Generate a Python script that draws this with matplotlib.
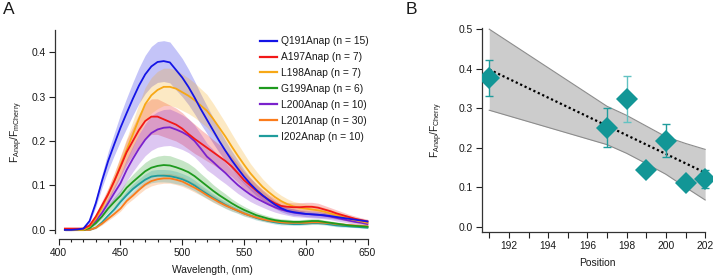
import numpy as np
import matplotlib
matplotlib.use("Agg")
import matplotlib.pyplot as plt
from matplotlib.ticker import MultipleLocator

plt.rcParams['font.family'] = ['Liberation Sans', 'DejaVu Sans']
plt.rcParams['mathtext.fontset'] = 'custom'
plt.rcParams['mathtext.rm'] = 'Liberation Sans'
plt.rcParams['mathtext.it'] = 'Liberation Sans:italic'

# ---------------- Panel A data ----------------
wavelength = list(range(405, 651, 5))

labels = ["Q191Anap (n = 15)", "A197Anap (n = 7)", "L198Anap (n = 7)", "G199Anap (n = 6)",
          "L200Anap (n = 10)", "L201Anap (n = 30)", "I202Anap (n = 10)"]

q191 = [0.0, 0.0, 0.001, 0.003, 0.02, 0.06, 0.11, 0.155, 0.193, 0.23,
        0.263, 0.295, 0.325, 0.35, 0.368, 0.378, 0.38, 0.377, 0.36, 0.343,
        0.322, 0.298, 0.272, 0.248, 0.224, 0.2, 0.178, 0.157, 0.138, 0.12,
        0.104, 0.09, 0.078, 0.067, 0.057, 0.049, 0.043, 0.04, 0.038, 0.036,
        0.035, 0.034, 0.033, 0.031, 0.029, 0.027, 0.025, 0.023, 0.021, 0.019]
q191_err = [0.002, 0.002, 0.002, 0.002, 0.004, 0.009, 0.015, 0.021, 0.025, 0.03,
            0.034, 0.037, 0.04, 0.043, 0.045, 0.046, 0.046, 0.046, 0.045, 0.043,
            0.04, 0.037, 0.034, 0.031, 0.029, 0.026, 0.023, 0.021, 0.019, 0.016,
            0.014, 0.013, 0.011, 0.01, 0.009, 0.008, 0.007, 0.007, 0.006, 0.006,
            0.006, 0.006, 0.006, 0.005, 0.005, 0.005, 0.005, 0.004, 0.004, 0.004]

a197 = [0.003, 0.003, 0.003, 0.003, 0.01, 0.03, 0.055, 0.08, 0.11, 0.142,
        0.175, 0.2, 0.225, 0.245, 0.255, 0.255, 0.249, 0.243, 0.237, 0.228,
        0.216, 0.205, 0.195, 0.185, 0.175, 0.165, 0.155, 0.143, 0.128, 0.112,
        0.1, 0.088, 0.077, 0.068, 0.06, 0.054, 0.052, 0.051, 0.051, 0.052,
        0.052, 0.05, 0.046, 0.042, 0.037, 0.033, 0.029, 0.025, 0.022, 0.019]
a197_err = [0.002, 0.002, 0.002, 0.002, 0.003, 0.006, 0.01, 0.014, 0.018, 0.023,
            0.028, 0.032, 0.036, 0.039, 0.04, 0.04, 0.039, 0.038, 0.037, 0.036,
            0.034, 0.033, 0.031, 0.03, 0.028, 0.027, 0.025, 0.023, 0.021, 0.019,
            0.017, 0.015, 0.014, 0.012, 0.011, 0.01, 0.01, 0.01, 0.01, 0.01,
            0.01, 0.01, 0.009, 0.008, 0.008, 0.007, 0.006, 0.006, 0.005, 0.005]

l198 = [0.0, 0.0, 0.0, 0.0, 0.008, 0.025, 0.05, 0.08, 0.11, 0.145,
        0.18, 0.215, 0.25, 0.283, 0.303, 0.315, 0.322, 0.322, 0.318, 0.31,
        0.302, 0.292, 0.28, 0.268, 0.25, 0.23, 0.21, 0.188, 0.167, 0.147,
        0.128, 0.112, 0.097, 0.085, 0.074, 0.065, 0.058, 0.053, 0.05, 0.048,
        0.046, 0.044, 0.041, 0.037, 0.033, 0.029, 0.025, 0.022, 0.019, 0.016]
l198_err = [0.002, 0.002, 0.002, 0.002, 0.004, 0.006, 0.009, 0.013, 0.017, 0.022,
            0.026, 0.03, 0.034, 0.038, 0.04, 0.042, 0.042, 0.042, 0.042, 0.041,
            0.04, 0.039, 0.038, 0.037, 0.035, 0.033, 0.031, 0.029, 0.027, 0.025,
            0.022, 0.02, 0.018, 0.016, 0.014, 0.013, 0.012, 0.011, 0.011, 0.01,
            0.01, 0.01, 0.009, 0.009, 0.008, 0.007, 0.007, 0.006, 0.006, 0.005]

g199 = [0.0, 0.0, 0.0, 0.0, 0.004, 0.015, 0.03, 0.048, 0.063, 0.077,
        0.095, 0.108, 0.12, 0.132, 0.14, 0.144, 0.146, 0.145, 0.141, 0.136,
        0.13, 0.121, 0.11, 0.099, 0.088, 0.078, 0.069, 0.06, 0.052, 0.045,
        0.039, 0.033, 0.029, 0.025, 0.022, 0.02, 0.019, 0.018, 0.018, 0.019,
        0.02, 0.02, 0.018, 0.016, 0.014, 0.012, 0.01, 0.009, 0.008, 0.007]
g199_err = [0.001, 0.001, 0.001, 0.001, 0.002, 0.004, 0.006, 0.009, 0.011, 0.013,
            0.015, 0.017, 0.019, 0.02, 0.021, 0.022, 0.022, 0.022, 0.021, 0.021,
            0.02, 0.019, 0.017, 0.016, 0.014, 0.013, 0.012, 0.01, 0.009, 0.008,
            0.007, 0.007, 0.006, 0.006, 0.005, 0.005, 0.005, 0.005, 0.005, 0.005,
            0.005, 0.005, 0.004, 0.004, 0.004, 0.004, 0.003, 0.003, 0.003, 0.003]

l200 = [0.0, 0.0, 0.0, 0.002, 0.008, 0.02, 0.038, 0.06, 0.083, 0.105,
        0.135, 0.16, 0.183, 0.203, 0.218, 0.226, 0.23, 0.231, 0.226, 0.22,
        0.212, 0.2, 0.183, 0.165, 0.153, 0.14, 0.128, 0.114, 0.101, 0.09,
        0.08, 0.071, 0.064, 0.057, 0.051, 0.046, 0.042, 0.039, 0.037, 0.036,
        0.035, 0.034, 0.032, 0.03, 0.027, 0.024, 0.021, 0.018, 0.016, 0.013]
l200_err = [0.001, 0.001, 0.001, 0.002, 0.003, 0.005, 0.008, 0.012, 0.016, 0.02,
            0.025, 0.029, 0.033, 0.036, 0.039, 0.04, 0.041, 0.041, 0.04, 0.039,
            0.038, 0.036, 0.033, 0.03, 0.028, 0.026, 0.024, 0.021, 0.019, 0.017,
            0.016, 0.014, 0.013, 0.012, 0.011, 0.01, 0.009, 0.009, 0.008, 0.008,
            0.008, 0.008, 0.007, 0.007, 0.007, 0.006, 0.006, 0.005, 0.005, 0.004]

l201 = [0.0, 0.0, 0.0, 0.0, 0.0, 0.005, 0.014, 0.025, 0.036, 0.048,
        0.065, 0.077, 0.09, 0.102, 0.11, 0.114, 0.116, 0.116, 0.113, 0.109,
        0.102, 0.095, 0.087, 0.078, 0.07, 0.062, 0.055, 0.049, 0.043, 0.037,
        0.032, 0.028, 0.024, 0.021, 0.019, 0.017, 0.016, 0.016, 0.016, 0.016,
        0.017, 0.017, 0.016, 0.015, 0.013, 0.012, 0.011, 0.01, 0.009, 0.008]
l201_err = [0.001, 0.001, 0.001, 0.001, 0.001, 0.002, 0.003, 0.004, 0.005, 0.006,
            0.007, 0.008, 0.009, 0.01, 0.011, 0.011, 0.011, 0.011, 0.011, 0.011,
            0.01, 0.01, 0.009, 0.008, 0.008, 0.007, 0.006, 0.006, 0.005, 0.005,
            0.004, 0.004, 0.004, 0.004, 0.003, 0.003, 0.003, 0.003, 0.003, 0.003,
            0.003, 0.003, 0.003, 0.003, 0.003, 0.003, 0.002, 0.002, 0.002, 0.002]

i202 = [0.0, 0.0, 0.0, 0.0, 0.0, 0.005, 0.017, 0.032, 0.046, 0.063,
        0.078, 0.092, 0.103, 0.113, 0.12, 0.122, 0.122, 0.121, 0.118, 0.114,
        0.108, 0.1, 0.09, 0.081, 0.072, 0.064, 0.056, 0.049, 0.043, 0.037,
        0.032, 0.027, 0.023, 0.02, 0.017, 0.015, 0.014, 0.013, 0.013, 0.014,
        0.015, 0.015, 0.014, 0.012, 0.01, 0.009, 0.008, 0.007, 0.006, 0.005]
i202_err = [0.001, 0.001, 0.001, 0.001, 0.001, 0.002, 0.004, 0.005, 0.007, 0.008,
            0.01, 0.011, 0.012, 0.013, 0.014, 0.014, 0.014, 0.014, 0.014, 0.013,
            0.013, 0.012, 0.011, 0.01, 0.009, 0.008, 0.008, 0.007, 0.006, 0.006,
            0.005, 0.005, 0.004, 0.004, 0.004, 0.004, 0.003, 0.003, 0.003, 0.003,
            0.003, 0.003, 0.003, 0.003, 0.003, 0.003, 0.002, 0.002, 0.002, 0.002]

series = [q191, a197, l198, g199, l200, l201, i202]
series_err = [q191_err, a197_err, l198_err, g199_err, l200_err, l201_err, i202_err]
colors = ["#1414e6", "#f21818", "#f7a816", "#1e9a1e", "#7a22cc", "#fb7c1c", "#1f9c9c"]

# ---------------- Panel B data ----------------
position = [191, 197, 198, 199, 200, 201, 202]
ratio = [0.377, 0.251, 0.323, 0.144, 0.218, 0.110, 0.121]
ratio_err = [0.045, 0.050, 0.058, 0.010, 0.041, 0.010, 0.023]
band_hi = [0.500, 0.305, 0.282, 0.255, 0.228, 0.211, 0.196]
band_lo = [0.295, 0.208, 0.186, 0.160, 0.133, 0.100, 0.068]
fit_x = [191, 202]
fit_y = [0.398, 0.137]

W, H = 715, 277
fig = plt.figure(figsize=(W / 100, H / 100), dpi=100)

FS = 7.4
tick_color = "#222222"
text_color = "#1a1a1a"

# ---------- Panel A ----------
axA = fig.add_axes([55 / W, (H - 233) / H, 315 / W, 203 / H])
wl = np.array(wavelength)
for y, e, c in zip(series, series_err, colors):
    y = np.array(y); e = np.array(e)
    axA.fill_between(wl, y - e, y + e, color=c, alpha=0.25, lw=0)
for y, c, lab in reversed(list(zip(series, colors, labels))):
    axA.plot(wl, y, color=c, lw=1.3, label=lab)

axA.set_xlim(397, 652)
axA.set_ylim(-0.007, 0.45)
for s in ["top", "right"]:
    axA.spines[s].set_visible(False)
axA.spines["bottom"].set_position(("outward", 4))
axA.spines["bottom"].set_bounds(400, 650)
axA.xaxis.set_major_locator(MultipleLocator(50))
axA.xaxis.set_minor_locator(MultipleLocator(10))
axA.yaxis.set_major_locator(MultipleLocator(0.1))
axA.yaxis.set_major_formatter(matplotlib.ticker.FormatStrFormatter('%.1f'))
axA.tick_params(axis='both', which='major', labelsize=FS, length=4, width=0.8,
                color=tick_color, labelcolor=text_color, pad=2.5)
axA.tick_params(axis='x', which='minor', length=2.5, width=0.8, color=tick_color)
for s in ["left", "bottom"]:
    axA.spines[s].set_linewidth(0.9)
    axA.spines[s].set_color("#333333")
axA.set_xlabel("Wavelength, (nm)", fontsize=FS, labelpad=5, color=text_color)
axA.set_ylabel(r"F$_{\mathrm{Anap}}$/F$_{\mathrm{mCherry}}$", fontsize=FS, labelpad=5, color=text_color)

handles, labs = axA.get_legend_handles_labels()
order = [labs.index(l) for l in labels]
leg = axA.legend([handles[i] for i in order], [labs[i] for i in order],
                 loc="upper left", bbox_to_anchor=(0.638, 0.99), frameon=False,
                 fontsize=FS, labelspacing=0.58, handlelength=1.6, handletextpad=0.45,
                 borderaxespad=0)
for t in leg.get_texts():
    t.set_color(text_color)
for ln in leg.get_lines():
    ln.set_linewidth(1.6)

fig.text(3 / W, 1 - 10 / H, "A", fontsize=12.5, va="center", ha="left", color=text_color)

# ---------- Panel B ----------
axB = fig.add_axes([482 / W, (H - 232) / H, 230 / W, 204 / H])
axB.fill_between(position, band_lo, band_hi, color="#cccccc", lw=0, zorder=1)
axB.plot(position, band_hi, color="#8c8c8c", lw=0.8, zorder=2)
axB.plot(position, band_lo, color="#8c8c8c", lw=0.8, zorder=2)
axB.plot(fit_x, fit_y, color="black", lw=1.6, linestyle=(0, (1, 1.2)), zorder=3)
err_colors = ["#1f9c9c", "#1f9c9c", "#62c2c2", "#1f9c9c", "#1f9c9c", "#1f9c9c", "#1f9c9c"]
for xp, yp, ep, ec in zip(position, ratio, ratio_err, err_colors):
    axB.errorbar([xp], [yp], yerr=[ep], fmt="none", ecolor=ec, elinewidth=1.0, capsize=2.8,
                 capthick=1.0, zorder=4)
axB.plot(position, ratio, linestyle="none", marker="D", markersize=11.5, color="#129696",
         markeredgewidth=0, zorder=5)

axB.set_xlim(190.63, 202.35)
axB.set_ylim(-0.013, 0.503)
for s in ["top", "right"]:
    axB.spines[s].set_visible(False)
axB.spines["bottom"].set_bounds(190.63, 202)
axB.xaxis.set_major_locator(MultipleLocator(2))
axB.xaxis.set_minor_locator(MultipleLocator(1))
axB.yaxis.set_major_locator(MultipleLocator(0.1))
axB.yaxis.set_major_formatter(matplotlib.ticker.FormatStrFormatter('%.1f'))
axB.tick_params(axis='both', which='major', labelsize=FS, length=4, width=0.8,
                color=tick_color, labelcolor=text_color, pad=2.5)
axB.tick_params(axis='x', which='minor', length=4, width=0.8, color=tick_color)
for s in ["left", "bottom"]:
    axB.spines[s].set_linewidth(0.9)
    axB.spines[s].set_color("#333333")
axB.set_xlabel("Position", fontsize=FS, labelpad=5, color=text_color)
axB.set_ylabel(r"F$_{\mathrm{Anap}}$/F$_{\mathrm{Cherry}}$", fontsize=FS, labelpad=10, color=text_color)

fig.text(406 / W, 1 - 9 / H, "B", fontsize=12.5, va="center", ha="left", color=text_color)

fig.savefig("out.png", dpi=100)
